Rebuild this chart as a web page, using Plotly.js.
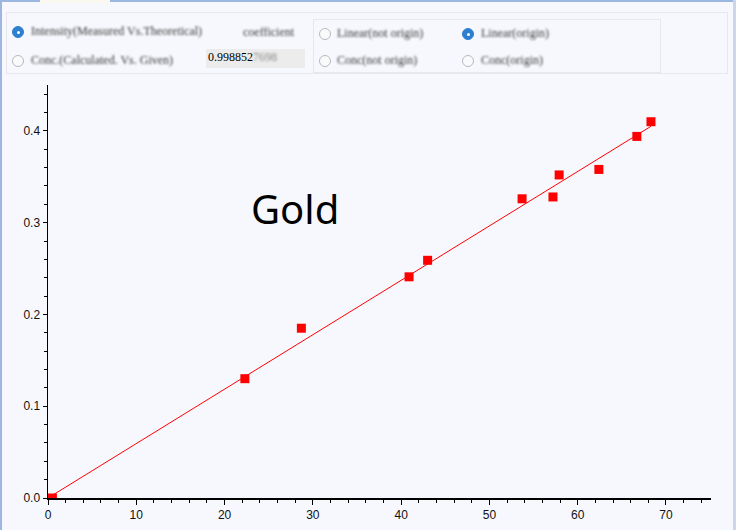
<!DOCTYPE html>
<html>
<head>
<meta charset="utf-8">
<script src="https://cdn.plot.ly/plotly-3.0.1.min.js"></script>
<style>
  html, body { margin:0; padding:0; width:736px; height:530px; overflow:hidden; background:#F7F8FD; }
  #chart { position:absolute; left:0; top:0; width:736px; height:530px; }
  .frame-l { position:absolute; left:0; top:0; width:2px; height:530px; background:#9DB8E0; }
  .frame-r { position:absolute; left:733px; top:0; width:3px; height:530px; background:#C9D6EC; }
  .frame-t { position:absolute; left:0; top:0; width:736px; height:2px; background:#9DB8E0; }
  .tab { position:absolute; left:40px; top:0; width:70px; height:3px; background:#FBF8F0; }
  .panel { position:absolute; left:0; top:0; width:736px; height:80px; font-family:"Liberation Serif","DejaVu Serif",serif; font-size:12px; color:#333; }
  .box { position:absolute; border:1px solid #E6E8EE; }
  .radio { position:absolute; width:12px; height:12px; border-radius:50%; border:1px solid #B5B8BF; background:#FAFAFA; box-sizing:border-box; filter:blur(0.6px); }
  .radio.on { background:#2F7FD0; border-color:#2F7FD0; }
  .radio.on::after { content:""; position:absolute; left:3.5px; top:3.5px; width:3px; height:3px; border-radius:50%; background:#fff; }
  .lbl { position:absolute; white-space:nowrap; filter:blur(0.9px); color:#3a3a3a; }
  .tb { position:absolute; left:206px; top:49px; width:99px; height:19px; background:#ECECEC; }
  .tbtxt { position:absolute; left:208px; top:50px; font-family:"Liberation Serif",serif; font-size:12px; color:#000; }
  .tbfade { position:absolute; left:253px; top:50px; font-family:"Liberation Serif",serif; font-size:12px; color:#8a8a8a; filter:blur(0.8px); }
</style>
</head>
<body>
<div id="chart"></div>
<div class="panel">
  <div class="box" style="left:6px;top:12px;width:720px;height:60px;"></div>
  <div class="box" style="left:313px;top:19px;width:346px;height:52px;"></div>
  <div class="radio on" style="left:12px;top:26px;"></div>
  <div class="lbl" style="left:31px;top:24px;">Intensity(Measured Vs.Theoretical)</div>
  <div class="radio" style="left:12px;top:55px;"></div>
  <div class="lbl" style="left:31px;top:53px;">Conc.(Calculated. Vs. Given)</div>
  <div class="lbl" style="left:243px;top:25px;">coefficient</div>
  <div class="tb"></div>
  <div class="tbtxt">0.998852</div>
  <div class="tbfade">7698</div>
  <div class="radio" style="left:319px;top:28px;"></div>
  <div class="lbl" style="left:337px;top:26px;">Linear(not origin)</div>
  <div class="radio on" style="left:462px;top:28px;"></div>
  <div class="lbl" style="left:481px;top:26px;">Linear(origin)</div>
  <div class="radio" style="left:319px;top:55px;"></div>
  <div class="lbl" style="left:337px;top:53px;">Conc(not origin)</div>
  <div class="radio" style="left:462px;top:55px;"></div>
  <div class="lbl" style="left:481px;top:53px;">Conc(origin)</div>
</div>
<div class="frame-t"></div>
<div class="tab"></div>
<div class="frame-l"></div>
<div class="frame-r"></div>
<script>
// Measured vs theoretical intensity points
const theoretical = [0.5, 22.3, 28.7, 40.9, 43.0, 53.7, 57.2, 57.9, 62.4, 66.7, 68.3];
const measured    = [0.0, 0.130, 0.185, 0.241, 0.259, 0.326, 0.328, 0.352, 0.358, 0.394, 0.410];
// Fitted line through origin (endpoints)
const fitX = [0, 68.3];
const fitY = [0, 0.405];
const elementName = "Gold";
const xTicks = [0, 10, 20, 30, 40, 50, 60, 70];
const yTicks = [0.0, 0.1, 0.2, 0.3, 0.4];

const bg = "#F7F8FD";
const data = [
  { x: fitX, y: fitY, mode: "lines", type: "scatter",
    line: { color: "#FF0000", width: 1 }, hoverinfo: "skip", showlegend: false },
  { x: theoretical, y: measured, mode: "markers", type: "scatter",
    marker: { symbol: "square", size: 9, color: "#FF0000" }, cliponaxis: true, showlegend: false }
];
const tickFont = { family: "Liberation Sans, Arial, sans-serif", size: 12, color: "#111" };
const layout = {
  width: 736, height: 530,
  margin: { l: 47.5, r: 25, t: 85, b: 31.7, pad: 0 },
  paper_bgcolor: bg, plot_bgcolor: bg,
  showlegend: false,
  xaxis: {
    range: [0, 75.1], tickvals: xTicks, ticktext: xTicks.map(String),
    showgrid: false, zeroline: false, showline: true, linecolor: "#000", linewidth: 1.5,
    ticks: "outside", ticklen: 5, tickwidth: 1, tickcolor: "#000",
    minor: { dtick: 2, ticks: "outside", ticklen: 3, tickcolor: "#000", showgrid: false },
    tickfont: tickFont, fixedrange: true
  },
  yaxis: {
    range: [0, 0.45], tickvals: yTicks, ticktext: yTicks.map(v => v.toFixed(1)),
    showgrid: false, zeroline: false, showline: true, linecolor: "#000", linewidth: 1.5,
    ticks: "outside", ticklen: 4, tickwidth: 1, tickcolor: "#000",
    minor: { dtick: 0.02, ticks: "outside", ticklen: 3, tickcolor: "#000", showgrid: false },
    tickfont: tickFont, fixedrange: true
  },
  annotations: [{
    text: elementName, xref: "paper", yref: "paper", x: 0.373, y: 0.702,
    xanchor: "center", yanchor: "middle", showarrow: false,
    font: { family: "Noto Sans, sans-serif", size: 40, color: "#000" }
  }]
};
Plotly.newPlot("chart", data, layout, { displayModeBar: false, staticPlot: true });
</script>
</body>
</html>
